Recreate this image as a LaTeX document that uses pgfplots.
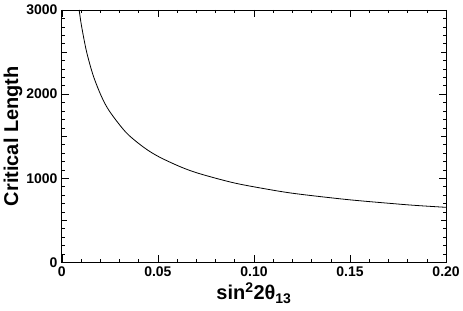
\documentclass[border=0pt]{standalone}
\usepackage{pgfplots}
\pgfplotsset{compat=1.18}
\usepackage{fontspec}
\setmainfont{Liberation Sans}
\begin{document}
\begin{tikzpicture}
\begin{axis}[
  scale only axis,
  width=385pt, height=253pt,
  xmin=0, xmax=0.2, ymin=0, ymax=3000,
  xtick={0,0.05,0.1,0.15,0.2},
  xticklabels={0,0.05,0.10,0.15,0.20},
  ytick={0,1000,2000,3000},
  yticklabels={0,1000,2000,3000},
  extra y ticks={500,1500,2500},
  extra y tick labels={},
  extra y tick style={major tick length=5pt},
  minor x tick num=4,
  minor y tick num=9,
  tick align=inside,
  major tick length=7pt,
  minor tick length=3.5pt,
  tick style={black, line width=0.6pt},
  axis line style={line width=0.9pt},
  ticklabel style={font=\bfseries\fontsize{14}{14}\selectfont},
  /pgf/number format/assume math mode=true,
  xticklabel style={yshift=-1pt},
  yticklabel style={xshift=-1pt},
  xlabel={sin\textsuperscript{2}2θ\textsubscript{13}},
  ylabel={Critical Length},
  label style={font=\bfseries\fontsize{20}{21}\selectfont},
  xlabel style={yshift=1pt},
  ylabel style={yshift=-3pt},
  clip=true,
]
\addplot[black, line width=0.8pt, smooth] coordinates {
(0.0090,3000)
(0.0102,2815)
(0.0128,2510)
(0.0163,2222)
(0.0206,1973)
(0.0249,1793)
(0.0336,1540)
(0.0431,1360)
(0.0509,1251)
(0.0620,1134)
(0.0717,1055)
(0.0899,944)
(0.1101,858)
(0.1236,812)
(0.1496,745)
(0.1756,693)
(0.1860,675)
(0.2000,655)
};
\end{axis}
\path[use as bounding box] (-62pt,-48pt) rectangle (401pt,263pt);
\end{tikzpicture}
\end{document}
